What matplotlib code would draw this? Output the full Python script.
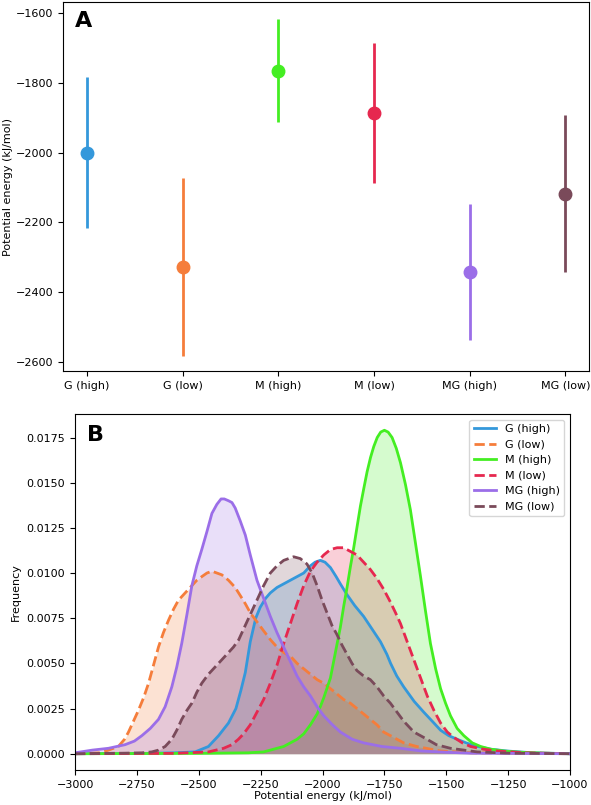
import matplotlib
matplotlib.use('Agg')
import numpy as np
import matplotlib.pyplot as plt

# --- Dados ---
grupos = ['G (high)', 'G (low)', 'M (high)', 'M (low)', 'MG (high)', 'MG (low)']
cores = ['#3498db', '#f57d3b', '#44ee22', '#e6284f', '#9b6ee8', '#7a4a5a']
estilos = ['-', '--', '-', '--', '-', '--']

# painel A: media e desvio
medias = [-2000, -2328, -1765, -1886, -2341, -2117]
desvios = [217, 255, 147, 200, 195, 225]

# painel B: distribuicoes (energia, frequencia)
e_g_high = [-3000, -2700, -2600, -2515, -2461, -2420, -2380, -2350, -2330, -2312, -2292, -2270,
            -2252, -2230, -2211, -2184, -2157, -2130, -2103, -2076, -2049, -2030, -2009, -1990,
            -1968, -1945, -1928, -1901, -1870, -1834, -1800, -1766, -1740, -1725, -1700, -1672,
            -1630, -1591, -1550, -1523, -1490, -1456, -1420, -1375, -1320, -1254, -1150, -1000]
f_g_high = [0, 0.00002, 0.00005, 0.0001, 0.0004, 0.001, 0.0017, 0.0025, 0.0035, 0.0045, 0.0062, 0.0075,
            0.0081, 0.0086, 0.0089, 0.0092, 0.0094, 0.0096, 0.0098, 0.0100, 0.0104, 0.0106, 0.0107, 0.0106,
            0.0103, 0.0098, 0.0094, 0.0088, 0.0082, 0.0076, 0.0069, 0.0062, 0.0055, 0.0050, 0.0043, 0.0037,
            0.0029, 0.0023, 0.0017, 0.0013, 0.0010, 0.0008, 0.0006, 0.0004, 0.00025, 0.00015, 0.00005, 0]

e_g_low = [-3000, -2900, -2865, -2825, -2800, -2784, -2764, -2744, -2723, -2703, -2683, -2663,
           -2643, -2622, -2602, -2582, -2555, -2528, -2508, -2488, -2467, -2447, -2427, -2407,
           -2380, -2353, -2330, -2312, -2292, -2265, -2238, -2210, -2184, -2157, -2130, -2103,
           -2076, -2049, -2022, -1995, -1968, -1941, -1915, -1888, -1861, -1834, -1807, -1780,
           -1753, -1726, -1699, -1672, -1620, -1523, -1400, -1000]
f_g_low = [0, 0.00005, 0.0002, 0.0004, 0.0008, 0.0012, 0.0018, 0.0024, 0.0031, 0.0039, 0.0049, 0.0059,
           0.0067, 0.0074, 0.0080, 0.0085, 0.0089, 0.0093, 0.0096, 0.0098, 0.0100, 0.0101, 0.0100, 0.0099,
           0.0096, 0.0092, 0.0087, 0.0083, 0.0078, 0.0073, 0.0068, 0.0063, 0.0059, 0.0056, 0.0054, 0.0050,
           0.0047, 0.0044, 0.0041, 0.0039, 0.0036, 0.0033, 0.0030, 0.0028, 0.0025, 0.0022, 0.0019, 0.0016,
           0.0012, 0.0010, 0.0008, 0.0006, 0.0004, 0.00015, 0.00005, 0]

e_m_high = [-3000, -2500, -2300, -2238, -2157, -2103, -2076, -2049, -2022, -2009, -1995, -1968,
            -1941, -1928, -1914, -1901, -1888, -1874, -1860, -1847, -1833, -1820, -1806, -1793,
            -1779, -1765, -1750, -1735, -1719, -1702, -1685, -1665, -1645, -1625, -1604, -1584,
            -1564, -1543, -1523, -1503, -1483, -1456, -1429, -1395, -1361, -1320, -1267, -1200,
            -1100, -1000]
f_m_high = [0, 0.00002, 0.00005, 0.0001, 0.0004, 0.0008, 0.0011, 0.0016, 0.0022, 0.0026, 0.0031, 0.0042,
            0.0061, 0.0070, 0.0082, 0.0092, 0.0103, 0.0114, 0.0126, 0.0137, 0.0147, 0.0156, 0.0164, 0.0170,
            0.0175, 0.0178, 0.0179, 0.0178, 0.0175, 0.0169, 0.0161, 0.0149, 0.0135, 0.0117, 0.0098, 0.0079,
            0.0061, 0.0047, 0.0036, 0.0028, 0.0021, 0.0014, 0.0010, 0.0006, 0.0004, 0.00025, 0.00015, 0.00008,
            0.00003, 0]

e_m_low = [-3000, -2600, -2461, -2400, -2366, -2340, -2319, -2292, -2265, -2238, -2211, -2184,
           -2157, -2130, -2103, -2076, -2049, -2022, -1995, -1968, -1941, -1915, -1888, -1861,
           -1834, -1807, -1780, -1753, -1726, -1705, -1685, -1658, -1631, -1604, -1577, -1550,
           -1523, -1496, -1469, -1435, -1402, -1350, -1294, -1186, -1000]
f_m_low = [0, 0.00002, 0.0001, 0.0003, 0.0005, 0.0008, 0.0011, 0.0016, 0.0023, 0.0030, 0.0039, 0.0049,
           0.0061, 0.0072, 0.0083, 0.0093, 0.0101, 0.0106, 0.0110, 0.0113, 0.0114, 0.0114, 0.0112, 0.0110,
           0.0106, 0.0102, 0.0097, 0.0091, 0.0084, 0.0078, 0.0072, 0.0062, 0.0052, 0.0042, 0.0032, 0.0024,
           0.0017, 0.0012, 0.0009, 0.0006, 0.0004, 0.00025, 0.00015, 0.00005, 0]

e_mg_high = [-3000, -2930, -2865, -2798, -2760, -2730, -2696, -2663, -2636, -2609, -2589, -2569,
             -2548, -2528, -2508, -2488, -2467, -2447, -2427, -2410, -2397, -2380, -2366, -2353,
             -2333, -2312, -2292, -2265, -2238, -2211, -2184, -2157, -2130, -2103, -2076, -2049,
             -2022, -1995, -1960, -1928, -1880, -1834, -1760, -1685, -1600, -1500, -1400, -1000]
f_mg_high = [0.00005, 0.0002, 0.0003, 0.0005, 0.0007, 0.0010, 0.0014, 0.0019, 0.0026, 0.0037, 0.0048, 0.0061,
             0.0077, 0.0093, 0.0104, 0.0113, 0.0123, 0.0133, 0.0138, 0.0141, 0.0141, 0.0140, 0.0139, 0.0136,
             0.0129, 0.0121, 0.0110, 0.0096, 0.0086, 0.0076, 0.0067, 0.0059, 0.0051, 0.0043, 0.0037, 0.0032,
             0.0026, 0.0021, 0.0016, 0.0012, 0.0008, 0.0006, 0.0004, 0.0003, 0.00015, 0.00008, 0.00003, 0]

e_mg_low = [-3000, -2800, -2730, -2690, -2663, -2636, -2609, -2589, -2569, -2548, -2528, -2508,
            -2488, -2461, -2434, -2407, -2380, -2360, -2339, -2319, -2292, -2265, -2238, -2211,
            -2184, -2157, -2137, -2117, -2090, -2063, -2042, -2022, -2002, -1982, -1962, -1942,
            -1921, -1901, -1881, -1861, -1834, -1807, -1780, -1753, -1726, -1699, -1672, -1631,
            -1591, -1540, -1483, -1375, -1250, -1000]
f_mg_low = [0, 0.00003, 0.00005, 0.0001, 0.0002, 0.0004, 0.0008, 0.0013, 0.0019, 0.0024, 0.0028, 0.0034,
            0.0039, 0.0044, 0.0048, 0.0052, 0.0056, 0.0059, 0.0063, 0.0069, 0.0077, 0.0085, 0.0093, 0.0100,
            0.0104, 0.0107, 0.0108, 0.0109, 0.0108, 0.0105, 0.0100, 0.0093, 0.0085, 0.0078, 0.0071, 0.0066,
            0.0060, 0.0055, 0.0050, 0.0046, 0.0043, 0.0041, 0.0037, 0.0032, 0.0028, 0.0023, 0.0018, 0.0012,
            0.0009, 0.0005, 0.0003, 0.0001, 0.00003, 0]

energias = [e_g_high, e_g_low, e_m_high, e_m_low, e_mg_high, e_mg_low]
freqs = [f_g_high, f_g_low, f_m_high, f_m_low, f_mg_high, f_mg_low]

# --- Figura ---
plt.rcParams['font.size'] = 8
fig = plt.figure(figsize=(5.91, 8.05), dpi=100)

# Painel A
ax1 = fig.add_axes([0.107, 0.539, 0.890, 0.4585])
for i, nome in enumerate(grupos):
    ax1.errorbar(i, medias[i], yerr=desvios[i], fmt='o', color=cores[i],
                 markersize=9, elinewidth=2, capsize=0)
ax1.set_xticks(range(len(grupos)))
ax1.set_xticklabels(grupos)
ax1.set_xlim(-0.25, 5.25)
ax1.set_ylim(-2626, -1568)
ax1.set_yticks([-2600, -2400, -2200, -2000, -1800, -1600])
ax1.set_ylabel('Potential energy (kJ/mol)', labelpad=2)
ax1.text(0.023, 0.975, 'A', transform=ax1.transAxes, fontsize=16,
         fontweight='bold', va='top', ha='left')

# Painel B
ax2 = fig.add_axes([0.127, 0.0435, 0.8375, 0.4422])
for i, nome in enumerate(grupos):
    e = np.array(energias[i])
    f = np.array(freqs[i])
    ax2.fill_between(e, f, color=cores[i], alpha=0.22, linewidth=0)
    ax2.plot(e, f, linestyle=estilos[i], color=cores[i], linewidth=2, label=nome)
ax2.set_xlim(-3000, -1000)
ax2.set_ylim(-0.0009, 0.0188)
ax2.set_xticks(np.arange(-3000, -999, 250))
ax2.set_yticks(np.arange(0, 0.0176, 0.0025))
ax2.yaxis.set_major_formatter(matplotlib.ticker.FormatStrFormatter('%.4f'))
ax2.set_xlabel('Potential energy (kJ/mol)', labelpad=1)
ax2.set_ylabel('Frequency')
ax2.legend(loc='upper right', fontsize=8)
ax2.text(0.024, 0.968, 'B', transform=ax2.transAxes, fontsize=16,
         fontweight='bold', va='top', ha='left')

fig.savefig('out.png', dpi=100)
